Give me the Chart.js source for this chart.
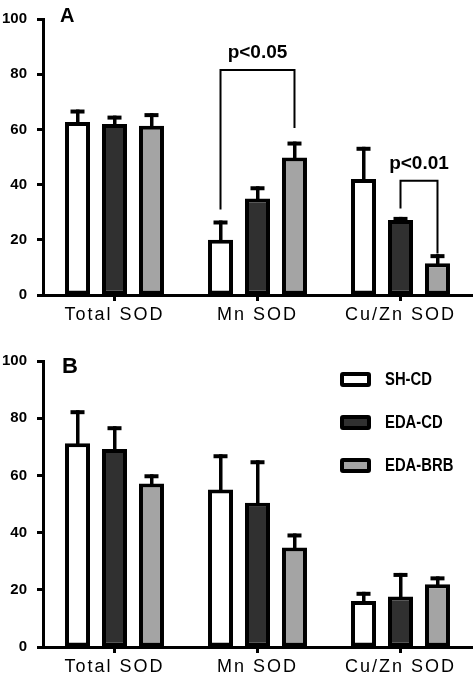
<!DOCTYPE html>
<html>
<head>
<meta charset="utf-8">
<script src="https://cdn.jsdelivr.net/npm/chart.js@4.4.0/dist/chart.umd.min.js"></script>
<style>
  html, body { margin: 0; padding: 0; background: #fff; }
  #page { position: relative; width: 475px; height: 680px; overflow: hidden; }
  canvas { position: absolute; left: 0; }
  #chartA { top: 0; }
  #chartB { top: 330px; }
  #legend { position: absolute; left: 340px; top: 368px; }
  .item { position: absolute; left: 0; height: 22px; display: flex; align-items: center; white-space: nowrap; }
  .swatch { box-sizing: border-box; width: 31px; height: 15px; border: 4px solid #000; border-radius: 3px; }
  .item span { display: inline-block; margin-left: 14px; font: bold 19px "Liberation Sans", Arial, sans-serif; color: #000; transform: scaleX(0.78); transform-origin: left center; }
</style>
</head>
<body>
<div id="page">
  <canvas id="chartA" width="475" height="330"></canvas>
  <canvas id="chartB" width="475" height="350"></canvas>
  <div id="legend"></div>
</div>
<script>
// categories and groups
const categories = ['Total SOD', 'Mn SOD', 'Cu/Zn SOD'];
const groups = ['SH-CD', 'EDA-CD', 'EDA-BRB'];
const yTicks = [0, 20, 40, 60, 80, 100];

// Panel A: means and SEM
const aShCd = [62.7, 20, 42];
const aShCdErr = [4.5, 7, 11.7];
const aEdaCd = [62, 35, 27.2];
const aEdaCdErr = [3, 4.4, 1.1];
const aEdaBrb = [61.3, 49.8, 11.5];
const aEdaBrbErr = [4.6, 5.8, 3.3];

// Panel B: means and SEM
const bShCd = [71.2, 55.1, 16.1];
const bShCdErr = [11.6, 12.3, 3.2];
const bEdaCd = [69.2, 50.4, 17.7];
const bEdaCdErr = [8, 14.9, 8.2];
const bEdaBrb = [57.2, 34.8, 21.9];
const bEdaBrbErr = [3.2, 4.9, 2.8];

const fills = ['#ffffff', '#303030', '#a4a4a4'];
const fontFamily = '"Liberation Sans", Arial, sans-serif';

// significance brackets (values in y units)
const bracketsA = [
    { from: [0, 1], to: [2, 1], top: 81.5, leftEnd: 31, rightEnd: 60.5, label: 'p<0.05' },
    { from: [1, 2], to: [2, 2], top: 41.4, leftEnd: 31.3, rightEnd: 15, label: 'p<0.01' }
];

// Wider letter spacing for category labels, normal for the rest
const spacingPlugin = {
    id: 'spacing',
    beforeDraw(chart) { chart.ctx.letterSpacing = '2px'; },
    beforeDatasetsDraw(chart) { chart.ctx.letterSpacing = '0px'; }
};

// Error bars (upper only)
const errorBarPlugin = {
    id: 'errorBars',
    afterDatasetsDraw(chart) {
        const ctx = chart.ctx;
        const yScale = chart.scales.y;
        ctx.save();
        ctx.fillStyle = '#000';
        chart.data.datasets.forEach((ds, i) => {
            chart.getDatasetMeta(i).data.forEach((bar, j) => {
                const topPx = yScale.getPixelForValue(ds.data[j] + ds.errs[j]);
                ctx.fillRect(bar.x - 1.5, topPx, 3.5, bar.y - topPx + 2);
                ctx.fillRect(bar.x - 7, topPx, 14, 4);
            });
        });
        ctx.restore();
    }
};

function annotationPlugin(brackets, panelLabel, labelX, labelBaseline, labelSize) {
    return {
        id: 'annotations',
        afterDraw(chart) {
            const ctx = chart.ctx;
            const yScale = chart.scales.y;
            ctx.save();
            ctx.letterSpacing = '0px';
            ctx.strokeStyle = '#000';
            ctx.fillStyle = '#000';
            ctx.lineWidth = 2;
            brackets.forEach(b => {
                const x0 = chart.getDatasetMeta(b.from[0]).data[b.from[1]].x;
                const x1 = chart.getDatasetMeta(b.to[0]).data[b.to[1]].x;
                const yTop = yScale.getPixelForValue(b.top);
                ctx.beginPath();
                ctx.moveTo(x0, yScale.getPixelForValue(b.leftEnd));
                ctx.lineTo(x0, yTop);
                ctx.lineTo(x1, yTop);
                ctx.lineTo(x1, yScale.getPixelForValue(b.rightEnd));
                ctx.stroke();
                ctx.font = 'bold 19px ' + fontFamily;
                ctx.textAlign = 'center';
                ctx.textBaseline = 'alphabetic';
                ctx.fillText(b.label, (x0 + x1) / 2, yTop - 12);
            });
            ctx.font = 'bold ' + labelSize + 'px ' + fontFamily;
            ctx.textAlign = 'left';
            ctx.textBaseline = 'alphabetic';
            ctx.fillText(panelLabel, labelX, labelBaseline);
            ctx.restore();
        }
    };
}

function buildChart(id, means, errs, padTop, xHeight, annot) {
    return new Chart(document.getElementById(id), {
        type: 'bar',
        data: {
            labels: categories,
            datasets: groups.map((g, i) => ({
                label: g,
                data: means[i],
                errs: errs[i],
                backgroundColor: fills[i],
                borderColor: '#000',
                borderWidth: 4,
                borderSkipped: false,
                categoryPercentage: 0.776,
                barPercentage: 0.676
            }))
        },
        options: {
            responsive: false,
            animation: false,
            events: [],
            layout: { padding: { top: padTop, right: 3, left: 0, bottom: 0 } },
            plugins: { legend: { display: false }, tooltip: { enabled: false } },
            scales: {
                x: {
                    grid: { drawOnChartArea: false, offset: false, tickLength: 6, tickWidth: 3, tickColor: '#000' },
                    border: { color: '#000', width: 3 },
                    ticks: { color: '#000', font: { family: fontFamily, size: 18 }, padding: 3, maxRotation: 0, autoSkip: false },
                    afterFit: s => { s.height = xHeight; }
                },
                y: {
                    min: 0,
                    max: 100,
                    afterBuildTicks: s => { s.ticks = yTicks.map(v => ({ value: v })); },
                    grid: { drawOnChartArea: false, tickLength: 6, tickWidth: 3, tickColor: '#000' },
                    border: { color: '#000', width: 3 },
                    ticks: { z: 1, color: '#000', font: { family: fontFamily, size: 15, weight: 'bold' }, padding: 10 },
                    afterFit: s => { s.width = 43; }
                }
            }
        },
        plugins: [spacingPlugin, errorBarPlugin, annot]
    });
}

buildChart('chartA',
    [aShCd, aEdaCd, aEdaBrb],
    [aShCdErr, aEdaCdErr, aEdaBrbErr],
    8, 35,
    annotationPlugin(bracketsA, 'A', 60, 22, 20));

buildChart('chartB',
    [bShCd, bEdaCd, bEdaBrb],
    [bShCdErr, bEdaCdErr, bEdaBrbErr],
    31, 33,
    annotationPlugin([], 'B', 62, 43, 22));

// Legend for panel B
const legend = document.getElementById('legend');
groups.forEach((g, i) => {
    const item = document.createElement('div');
    item.className = 'item';
    item.style.top = (i * 43) + 'px';
    item.innerHTML = `<div class="swatch" style="background:${fills[i]}"></div><span>${g}</span>`;
    legend.appendChild(item);
});
</script>
</body>
</html>
